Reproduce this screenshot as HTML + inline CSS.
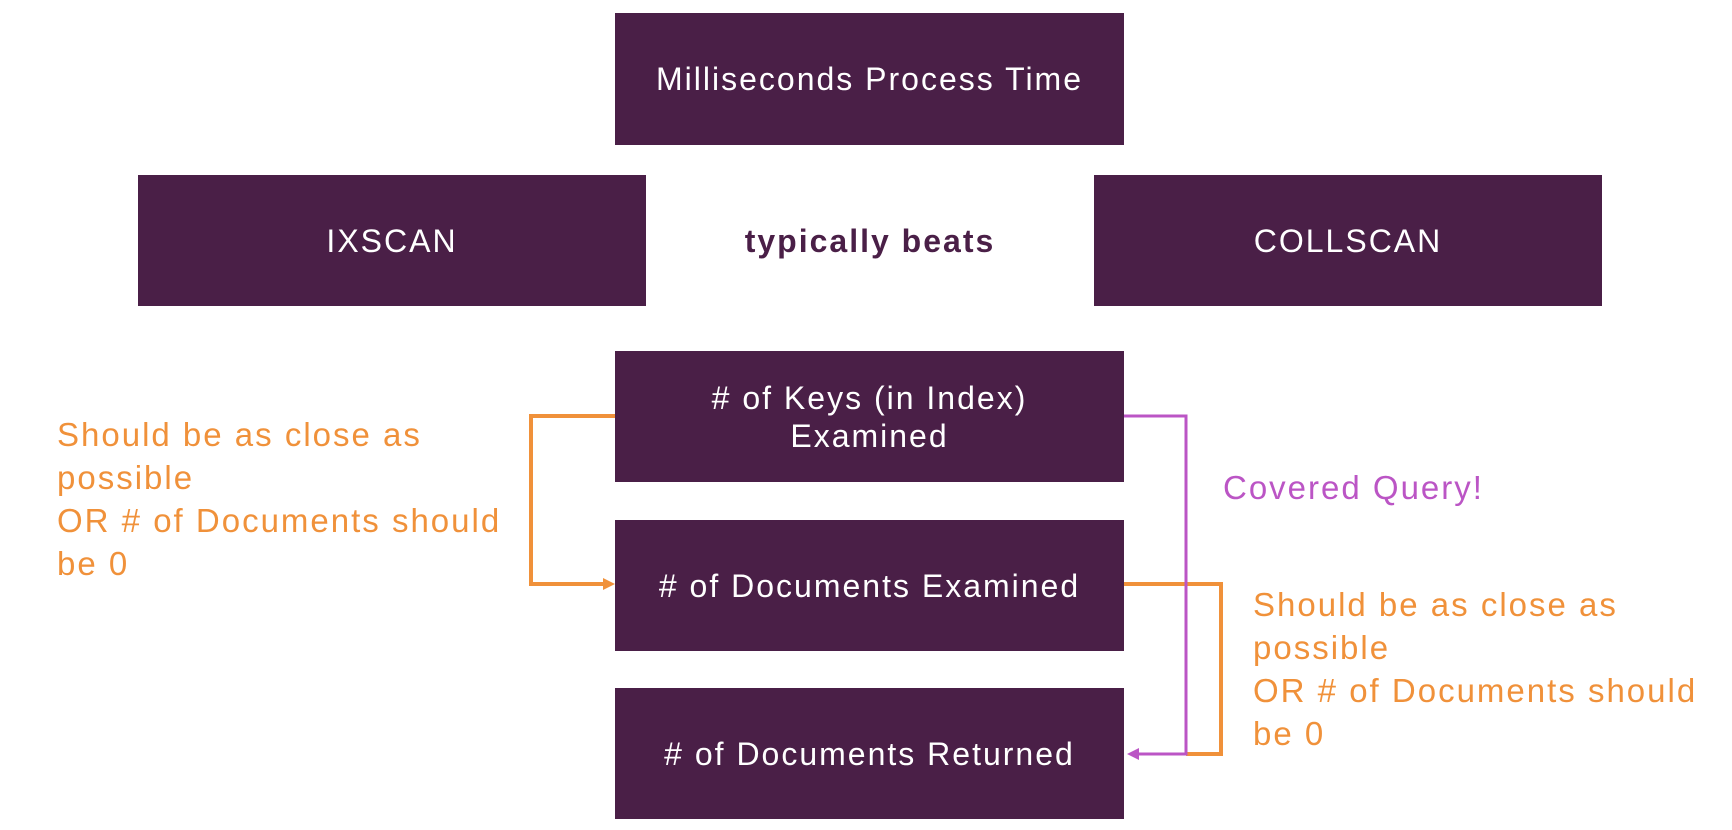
<!DOCTYPE html>
<html><head><meta charset="utf-8"><style>
body{margin:0;width:1732px;height:830px;background:#fff;position:relative;overflow:hidden;font-family:"Liberation Sans",sans-serif}
.b{position:absolute;background:#4a1f47;color:#fff;display:flex;align-items:center;justify-content:center;text-align:center;font-size:32px;line-height:38px;letter-spacing:2px}
.t{position:absolute;font-size:33px;line-height:43px;white-space:nowrap;letter-spacing:2px}
</style></head><body>
<div class="b" style="left:615px;top:13px;width:509px;height:132px">Milliseconds Process Time</div>
<div class="b" style="left:138px;top:175px;width:508px;height:131px">IXSCAN</div>
<div class="b" style="left:1094px;top:175px;width:508px;height:131px">COLLSCAN</div>
<div class="t" style="left:646px;top:220px;width:448px;text-align:center;font-weight:bold;color:#4a1f47;font-size:32px">typically beats</div>
<div class="b" style="left:615px;top:351px;width:509px;height:131px">#&nbsp;of Keys (in Index)<br>Examined</div>
<div class="b" style="left:615px;top:520px;width:509px;height:131px"># of Documents Examined</div>
<div class="b" style="left:615px;top:688px;width:509px;height:131px"># of Documents Returned</div>
<svg style="position:absolute;left:0;top:0" width="1732" height="830">
<polyline points="615,416 531,416 531,584 606,584" fill="none" stroke="#f0913a" stroke-width="4"/>
<polygon points="615,584 603,578 603,590" fill="#f0913a"/>
<polyline points="1124,584 1221,584 1221,754 1186,754" fill="none" stroke="#f0913a" stroke-width="4"/>
<polyline points="1124,416 1186,416 1186,754 1136,754" fill="none" stroke="#bb55c5" stroke-width="3"/>
<polygon points="1127,754 1139,748 1139,760" fill="#bb55c5"/>
</svg>
<div class="t" style="left:57px;top:413px;color:#f0913a">Should be as close as<br>possible<br>OR # of Documents should<br>be 0</div>
<div class="t" style="left:1223px;top:466px;color:#bb55c5">Covered Query!</div>
<div class="t" style="left:1253px;top:583px;color:#f0913a">Should be as close as<br>possible<br>OR # of Documents should<br>be 0</div>
</body></html>
